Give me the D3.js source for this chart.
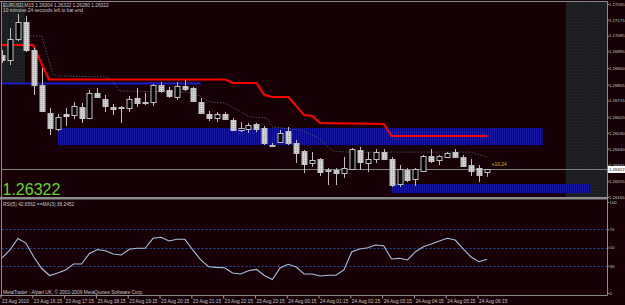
<!DOCTYPE html>
<html>
<head>
<meta charset="utf-8">
<style>
body { margin: 0; background: #160005; overflow: hidden; }
svg { display: block; }
text { font-family: "Liberation Sans", Arial, sans-serif; }
</style>
<script src="https://d3js.org/d3.v7.min.js"></script>
</head>
<body>
<div id="chart"></div>
<script>
// ---- data (EURUSD M15, 62 bars) ----
var opens = [1.26974, 1.26946, 1.27066, 1.27162, 1.27003, 1.26803, 1.26644, 1.26552, 1.26638, 1.26632,
    1.26678, 1.26615, 1.26758, 1.26724, 1.26678, 1.26678, 1.26672, 1.26729, 1.26706, 1.26706,
    1.26803, 1.26775, 1.26735, 1.26798, 1.26786, 1.26706, 1.26638, 1.26615, 1.26638, 1.26604,
    1.26547, 1.26552, 1.26581, 1.26558, 1.26461, 1.26478, 1.26541, 1.26473, 1.26427, 1.26359,
    1.26381, 1.26319, 1.26319, 1.26301, 1.26325, 1.26433, 1.26359, 1.26381, 1.26421, 1.26381,
    1.26239, 1.26319, 1.26267, 1.26313, 1.26399, 1.26376, 1.26393, 1.26421, 1.26393, 1.26347,
    1.26330, 1.26304];
var highs = [1.27003, 1.27128, 1.27208, 1.27197, 1.27014, 1.26900, 1.26672, 1.26638, 1.26672, 1.26706,
    1.26701, 1.26775, 1.26786, 1.26746, 1.26695, 1.26684, 1.26741, 1.26786, 1.26758, 1.26809,
    1.26820, 1.26792, 1.26820, 1.26832, 1.26792, 1.26729, 1.26655, 1.26649, 1.26649, 1.26615,
    1.26592, 1.26587, 1.26587, 1.26570, 1.26473, 1.26547, 1.26564, 1.26490, 1.26433, 1.26421,
    1.26387, 1.26330, 1.26330, 1.26393, 1.26444, 1.26450, 1.26421, 1.26438, 1.26438, 1.26393,
    1.26347, 1.26330, 1.26330, 1.26404, 1.26438, 1.26404, 1.26421, 1.26438, 1.26404, 1.26381,
    1.26347, 1.26322];
var lows = [1.26929, 1.26917, 1.27054, 1.26991, 1.26746, 1.26649, 1.26518, 1.26541, 1.26570, 1.26609,
    1.26587, 1.26609, 1.26729, 1.26649, 1.26632, 1.26587, 1.26649, 1.26678, 1.26689, 1.26684,
    1.26758, 1.26729, 1.26718, 1.26769, 1.26706, 1.26638, 1.26598, 1.26592, 1.26604, 1.26541,
    1.26535, 1.26530, 1.26535, 1.26461, 1.26456, 1.26473, 1.26461, 1.26359, 1.26301, 1.26337,
    1.26285, 1.26233, 1.26233, 1.26274, 1.26319, 1.26319, 1.26307, 1.26359, 1.26376, 1.26222,
    1.26222, 1.26250, 1.26228, 1.26307, 1.26359, 1.26347, 1.26387, 1.26387, 1.26337, 1.26285,
    1.26250, 1.26280];
var closes = [1.26946, 1.27066, 1.27162, 1.27003, 1.26803, 1.26655, 1.26558, 1.26621, 1.26627, 1.26684,
    1.26615, 1.26758, 1.26735, 1.26684, 1.26669, 1.26675, 1.26724, 1.26701, 1.26704, 1.26803,
    1.26769, 1.26741, 1.26798, 1.26781, 1.26712, 1.26644, 1.26615, 1.26638, 1.26609, 1.26547,
    1.26558, 1.26575, 1.26552, 1.26473, 1.26459, 1.26530, 1.26473, 1.26416, 1.26353, 1.26376,
    1.26307, 1.26316, 1.26301, 1.26330, 1.26438, 1.26364, 1.26381, 1.26421, 1.26381, 1.26233,
    1.26325, 1.26261, 1.26325, 1.26399, 1.26370, 1.26399, 1.26416, 1.26393, 1.26342, 1.26313,
    1.26290, 1.26322];

// rsi panel line (MA of RSI), one value per bar
var rsiLine = [38.5, 47.3, 59.9, 54.9, 39.6, 26.9, 19.2, 22.0, 25.3, 31.9,
    31.9, 43.4, 47.8, 46.5, 42.9, 41.8, 48.0, 49.1, 49.1, 60.1,
    61.2, 57.1, 59.0, 59.0, 47.3, 36.3, 28.9, 28.2, 27.8, 22.0,
    20.9, 24.5, 26.0, 19.2, 14.8, 27.8, 31.5, 28.6, 20.9, 20.9,
    18.7, 19.5, 19.5, 25.3, 45.4, 48.4, 49.8, 52.7, 52.0, 37.4,
    38.1, 36.3, 45.4, 50.9, 53.8, 57.1, 60.1, 58.2, 48.4, 39.6,
    34.4, 37.0];

// indicator lines as [bar index, price]
var redLine = [[-1, 1.27031], [3.9, 1.27031], [5.9, 1.26835], [28, 1.26835], [29, 1.26815],
    [32, 1.26815], [33, 1.26746], [34, 1.26735], [36, 1.26735], [38, 1.26632], [39, 1.26627],
    [40, 1.26587], [48, 1.26581], [49, 1.26513], [61, 1.26513]];
var blueLine = [[-1, 1.26812], [25, 1.26812]];
var dotLine = [[3.5, 1.27083], [5, 1.27083], [6.4, 1.26866], [7, 1.26855], [13.2, 1.26849],
    [13.8, 1.26832], [14.8, 1.26769], [23.3, 1.26764], [24.9, 1.26741], [26.2, 1.26706],
    [28, 1.26701], [31.2, 1.26621], [33.3, 1.26615], [34, 1.26564], [37.5, 1.26547],
    [39.6, 1.26507], [41.6, 1.26427], [43.4, 1.26421], [58.9, 1.26421], [61, 1.26393]];

// zones: [from index, to index, top price, bottom price]
var bands = [[7, 68, 1.26558, 1.26461], [49, 74, 1.26239, 1.26187]];
var shades = [[-1, 2.9, 1.2740, 1.26812], [70.9, 78, 1.2740, 1.2600]];

var priceTicks = [1.27265, 1.27175, 1.27085, 1.26995, 1.26900, 1.26805, 1.26715,
    1.26620, 1.26530, 1.26440, 1.26345, 1.26255, 1.26165];
var lastPrice = 1.26322;
var rsiTicks = [100, 70, 50, 30, 0];
var rsiLevels = [70, 50, 30];
var timeIdx = [0, 4, 8, 12, 16, 20, 24, 28, 32, 36, 40, 44, 48, 52, 56, 60];
var timeLabels = ["23 Aug 2010", "23 Aug 16:15", "23 Aug 17:15", "23 Aug 18:15", "23 Aug 19:15",
    "23 Aug 20:15", "23 Aug 21:15", "23 Aug 22:15", "23 Aug 23:15", "24 Aug 00:15",
    "24 Aug 01:15", "24 Aug 02:15", "24 Aug 03:15", "24 Aug 04:15", "24 Aug 05:15", "24 Aug 06:15"];

// ---- layout ----
var W = 625, H = 305;
var box = {left: 1.5, right: 607.5, top: 1.5, bottom: 197, rsiTop: 199.5, rsiBottom: 295.5};
var grey = "#8c8c8c", txt = "#c8c8c8", fs = 4.8, afs = 4.3;

var xs = d3.scaleLinear().domain([0, 61]).range([2, 487]);
var ys = d3.scaleLinear().domain([1.26165, 1.27265]).range([197, 4]);
var yr = d3.scaleLinear().domain([0, 100]).range([293, 202]);

var svg = d3.select("#chart").append("svg").attr("width", W).attr("height", H);
svg.append("rect").attr("width", W).attr("height", H).attr("fill", "#160005");

var defs = svg.append("defs");
var hatch = defs.append("pattern").attr("id", "hatch").attr("patternUnits", "userSpaceOnUse")
        .attr("width", 2).attr("height", 2);
hatch.append("rect").attr("width", 2).attr("height", 2).attr("fill", "#08086e");
hatch.append("rect").attr("width", 1).attr("height", 2).attr("fill", "#1717a2");
var speck = defs.append("pattern").attr("id", "speck").attr("patternUnits", "userSpaceOnUse")
        .attr("width", 3).attr("height", 3);
speck.append("rect").attr("width", 3).attr("height", 3).attr("fill", "#1b1d21");
speck.append("rect").attr("x", 1).attr("y", 1).attr("width", 1).attr("height", 1).attr("fill", "#25282d");
var bearTex = defs.append("pattern").attr("id", "bear").attr("patternUnits", "userSpaceOnUse")
        .attr("width", 2).attr("height", 2);
bearTex.append("rect").attr("width", 2).attr("height", 2).attr("fill", "#d4d4d4");
bearTex.append("rect").attr("width", 1).attr("height", 1).attr("fill", "#a4a4a4");
defs.append("clipPath").attr("id", "clipMain").append("rect")
        .attr("x", box.left).attr("y", box.top)
        .attr("width", box.right - box.left).attr("height", box.bottom - box.top);

var main = svg.append("g").attr("clip-path", "url(#clipMain)");

// shaded zones
main.selectAll(".shade").data(shades).enter().append("rect")
        .attr("x", function (d) { return xs(d[0]); })
        .attr("width", function (d) { return xs(d[1]) - xs(d[0]); })
        .attr("y", function (d) { return ys(d[2]); })
        .attr("height", function (d) { return ys(d[3]) - ys(d[2]); })
        .attr("fill", "url(#speck)");

// hatched bands
main.selectAll(".band").data(bands).enter().append("rect")
        .attr("x", function (d) { return xs(d[0]); })
        .attr("width", function (d) { return xs(d[1]) - xs(d[0]); })
        .attr("y", function (d) { return ys(d[2]); })
        .attr("height", function (d) { return ys(d[3]) - ys(d[2]); })
        .attr("fill", "url(#hatch)");

// current price line
main.append("line").attr("x1", box.left).attr("x2", box.right)
        .attr("y1", Math.round(ys(lastPrice)) + 0.5).attr("y2", Math.round(ys(lastPrice)) + 0.5)
        .attr("stroke", "#808080").attr("stroke-width", 1);

var line = d3.line().x(function (d) { return xs(d[0]); }).y(function (d) { return ys(d[1]); });
main.append("path").attr("d", line(dotLine)).attr("fill", "none")
        .attr("stroke", "#46525c").attr("stroke-width", 1).attr("stroke-dasharray", "1.5,1.5");
main.append("path").attr("d", line(blueLine)).attr("fill", "none")
        .attr("stroke", "#1c1cd0").attr("stroke-width", 2);
main.append("path").attr("d", line(redLine)).attr("fill", "none")
        .attr("stroke", "#ff0000").attr("stroke-width", 2);

// candles
var bars = d3.range(opens.length);
var cg = main.append("g");
cg.selectAll(".wick").data(bars).enter().append("line")
        .attr("x1", function (i) { return Math.round(xs(i)) + 0.5; })
        .attr("x2", function (i) { return Math.round(xs(i)) + 0.5; })
        .attr("y1", function (i) { return ys(highs[i]); })
        .attr("y2", function (i) { return ys(lows[i]); })
        .attr("stroke", "#c0c0c0").attr("stroke-width", 1);
cg.selectAll(".body").data(bars).enter().append("rect")
        .attr("x", function (i) { return Math.round(xs(i)) - 2; })
        .attr("width", 5)
        .attr("y", function (i) { return Math.round(ys(Math.max(opens[i], closes[i]))) + 0.5; })
        .attr("height", function (i) {
            return Math.max(1, Math.round(Math.abs(ys(opens[i]) - ys(closes[i]))));
        })
        .attr("fill", function (i) { return closes[i] >= opens[i] ? "#000000" : "url(#bear)"; })
        .attr("stroke", "#c0c0c0").attr("stroke-width", 1);

// annotation next to the last bar
main.append("text").text("+10.24").attr("x", xs(61.6)).attr("y", ys(1.26342))
        .attr("font-size", fs).attr("fill", "#c8c020");

// titles
svg.append("text").text("EURUSD,M15  1.26304 1.26322 1.26280 1.26322")
        .attr("x", 3).attr("y", 7).attr("font-size", fs).attr("fill", txt);
svg.append("text").text("10 minutes 24 seconds left to bar end")
        .attr("x", 3).attr("y", 11.8).attr("font-size", fs).attr("fill", txt);
svg.append("text").text(d3.format(".5f")(lastPrice))
        .attr("x", 2.5).attr("y", 194.5).attr("font-size", 16).attr("fill", "#66d81c");

// rsi panel
var rg = svg.append("g");
rg.selectAll(".lvl").data(rsiLevels).enter().append("line")
        .attr("x1", box.left).attr("x2", box.right)
        .attr("y1", function (d) { return Math.round(yr(d)) + 0.5; })
        .attr("y2", function (d) { return Math.round(yr(d)) + 0.5; })
        .attr("stroke", "#1f4f98").attr("stroke-width", 1).attr("stroke-dasharray", "2,2");
rg.append("path").datum(rsiLine)
        .attr("d", d3.line().x(function (d, i) { return xs(i); }).y(function (d) { return yr(d); }))
        .attr("fill", "none").attr("stroke", "#a9c2e0").attr("stroke-width", 1.1);
rg.append("text").text("RSI(5) 42.6562  ==MA(3) 38.2452")
        .attr("x", 3).attr("y", 206).attr("font-size", fs).attr("fill", txt);
rg.append("text").text("MetaTrader - Alpari UK, \u00a9 2001-2009 MetaQuotes Software Corp.")
        .attr("x", 3).attr("y", 293.5).attr("font-size", fs).attr("fill", txt);

// frame
svg.append("line").attr("x1", 0).attr("x2", box.right).attr("y1", box.top).attr("y2", box.top)
        .attr("stroke", grey);
svg.append("line").attr("x1", box.left).attr("x2", box.left).attr("y1", box.top).attr("y2", box.rsiBottom)
        .attr("stroke", grey);
svg.append("line").attr("x1", box.right).attr("x2", box.right).attr("y1", box.top).attr("y2", box.rsiBottom)
        .attr("stroke", grey);
svg.append("rect").attr("x", 0).attr("width", box.right + 0.5).attr("y", box.bottom)
        .attr("height", box.rsiTop - box.bottom).attr("fill", grey);
svg.append("line").attr("x1", 0).attr("x2", box.right).attr("y1", box.rsiBottom).attr("y2", box.rsiBottom)
        .attr("stroke", grey);

// axes
function styleAxis(g, size) {
    g.selectAll("path.domain").remove();
    g.selectAll(".tick line").attr("stroke", "#a0a0a0");
    g.selectAll(".tick text").attr("fill", txt)
            .attr("font-size", size).attr("font-family", "\"Liberation Sans\", Arial, sans-serif");
}
var pa = svg.append("g").attr("transform", "translate(" + box.right + ",0)")
        .call(d3.axisRight(ys).tickValues(priceTicks).tickSize(1.5).tickPadding(0)
                .tickFormat(d3.format(".5f")));
styleAxis(pa, afs);
var ra = svg.append("g").attr("transform", "translate(" + box.right + ",0)")
        .call(d3.axisRight(yr).tickValues(rsiTicks).tickSize(1.5).tickPadding(0.5));
styleAxis(ra, afs);

// last price marker on the price scale
var ly = ys(lastPrice);
svg.append("rect").attr("x", box.right + 0.5).attr("y", ly - 3.5).attr("width", 17).attr("height", 7)
        .attr("fill", "#ffffff");
svg.append("text").text(d3.format(".5f")(lastPrice)).attr("x", box.right + 1.5).attr("y", ly + 1.6)
        .attr("font-size", afs).attr("fill", "#000");

var ta = svg.append("g").attr("transform", "translate(0," + box.rsiBottom + ")")
        .call(d3.axisBottom(xs).tickValues(timeIdx).tickSize(3).tickPadding(1)
                .tickFormat(function (d, i) { return timeLabels[i]; }));
styleAxis(ta, fs);
ta.selectAll(".tick line").attr("x1", -1.5).attr("x2", -1.5);
ta.selectAll(".tick text").attr("text-anchor", "start").attr("x", -0.5);
</script>
</body>
</html>
